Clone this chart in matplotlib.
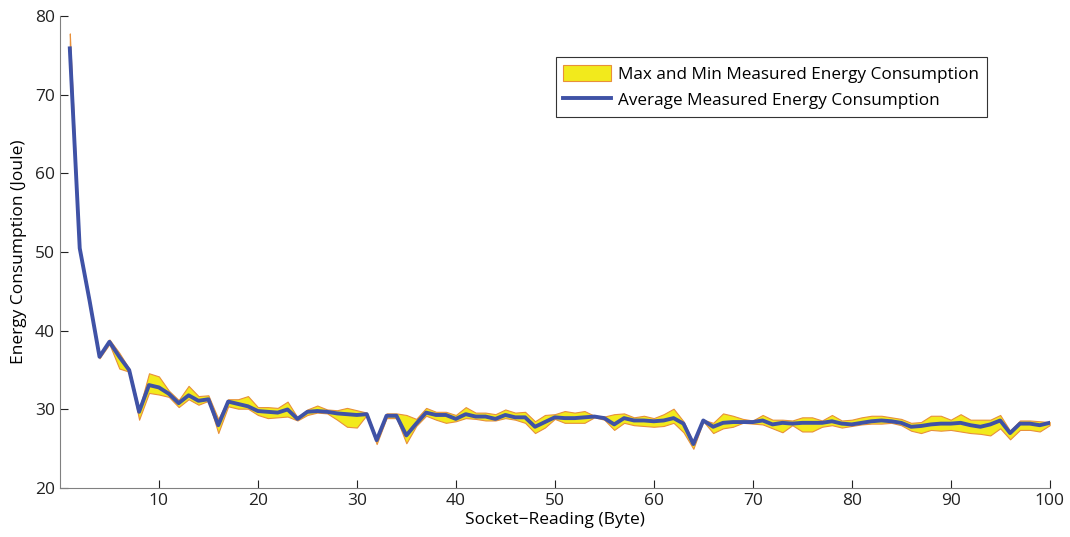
import matplotlib
matplotlib.use('Agg')
import matplotlib.pyplot as plt
import numpy as np

plt.rcParams['font.family'] = ['Open Sans', 'DejaVu Sans']

x = np.arange(1, 101)

avg = [75.9, 50.5, 43.8, 36.7, 38.6, 36.7, 35.0, 29.7, 33.1, 32.8,
       32.0, 30.8, 31.8, 31.1, 31.3, 28.0, 31.0, 30.7, 30.4, 29.8,
       29.7, 29.6, 30.0, 28.8, 29.7, 29.8, 29.7, 29.5, 29.4, 29.3,
       29.4, 26.1, 29.2, 29.2, 26.7, 28.2, 29.6, 29.3, 29.3, 28.8,
       29.4, 29.1, 29.1, 28.8, 29.3, 29.0, 29.0, 27.8, 28.4, 29.0,
       28.9, 28.9, 29.0, 29.1, 28.9, 28.1, 28.9, 28.6, 28.6, 28.5,
       28.6, 28.9, 28.2, 25.6, 28.6, 27.8, 28.3, 28.4, 28.4, 28.4,
       28.6, 28.1, 28.3, 28.2, 28.3, 28.3, 28.3, 28.5, 28.2, 28.1,
       28.3, 28.5, 28.6, 28.5, 28.3, 27.8, 27.9, 28.1, 28.2, 28.2,
       28.3, 28.0, 27.8, 28.1, 28.6, 27.0, 28.2, 28.2, 28.0, 28.3]

e_max = [77.8, 50.6, 44.0, 36.8, 38.9, 37.2, 35.2, 30.0, 34.6, 34.2,
         32.4, 31.2, 33.0, 31.7, 31.8, 28.8, 31.3, 31.3, 31.7, 30.3,
         30.3, 30.2, 31.0, 29.0, 30.0, 30.5, 30.0, 29.9, 30.2, 29.9,
         29.6, 26.3, 29.5, 29.5, 29.3, 28.8, 30.2, 29.7, 29.7, 29.3,
         30.3, 29.6, 29.6, 29.4, 30.0, 29.6, 29.7, 28.5, 29.3, 29.4,
         29.8, 29.6, 29.8, 29.2, 29.1, 29.4, 29.5, 29.0, 29.2, 28.9,
         29.4, 30.1, 28.5, 25.8, 28.7, 28.3, 29.5, 29.2, 28.8, 28.6,
         29.3, 28.7, 28.7, 28.6, 29.0, 29.0, 28.6, 29.3, 28.6, 28.7,
         29.0, 29.2, 29.2, 29.0, 28.8, 28.3, 28.4, 29.2, 29.2, 28.7,
         29.4, 28.7, 28.7, 28.7, 29.3, 27.3, 28.6, 28.6, 28.5, 28.4]

e_min = [75.8, 50.4, 43.6, 36.5, 38.3, 35.2, 34.8, 28.7, 32.1, 31.9,
         31.6, 30.3, 31.3, 30.6, 31.1, 27.0, 30.4, 30.1, 30.1, 29.3,
         28.9, 29.0, 29.1, 28.6, 29.3, 29.6, 29.5, 28.7, 27.8, 27.7,
         29.3, 25.6, 28.9, 28.9, 25.7, 27.9, 29.2, 28.7, 28.3, 28.5,
         28.9, 28.8, 28.6, 28.6, 28.9, 28.7, 28.3, 27.0, 27.7, 28.8,
         28.3, 28.3, 28.3, 29.0, 28.7, 27.4, 28.3, 28.0, 27.9, 27.8,
         27.9, 28.3, 27.1, 25.0, 28.5, 27.0, 27.6, 27.8, 28.3, 28.2,
         28.1, 27.6, 27.1, 28.0, 27.2, 27.2, 27.8, 28.0, 27.7, 27.9,
         28.1, 28.2, 28.2, 28.3, 28.0, 27.3, 27.0, 27.4, 27.3, 27.4,
         27.2, 27.0, 26.9, 26.7, 27.6, 26.2, 27.4, 27.4, 27.2, 28.0]

fig = plt.figure(figsize=(10.7, 5.37), dpi=100)
ax = fig.add_axes([0.056, 0.091, 0.925, 0.879])

ax.fill_between(x, e_min, e_max, facecolor='#f2ea1c', edgecolor='#e8903a',
                linewidth=0.8, label='Max and Min Measured Energy Consumption')
ax.plot(x, avg, color='#3f52a6', linewidth=2.8,
        label='Average Measured Energy Consumption')

ax.set_xlim(0, 100)
ax.set_ylim(20, 80)
ax.set_xticks(range(10, 101, 10))
ax.set_yticks(range(20, 81, 10))
ax.tick_params(direction='in', length=6, labelsize=12.5, colors='#222222')
ax.spines['top'].set_visible(False)
ax.spines['right'].set_visible(False)
ax.spines['left'].set_color('#808080')
ax.spines['bottom'].set_color('#808080')

ax.set_xlabel('Socket\u2212Reading (Byte)', fontsize=12.5, labelpad=2)
ax.set_ylabel('Energy Consumption (Joule)', fontsize=12.5, labelpad=6)

leg = ax.legend(loc='upper left', bbox_to_anchor=(0.501, 0.913), fontsize=12.3,
                fancybox=False, edgecolor='#333333', framealpha=1,
                borderaxespad=0, borderpad=0.45, labelspacing=0.5,
                handlelength=2.8, handleheight=1.1, handletextpad=0.4)
leg.get_frame().set_linewidth(0.8)

fig.savefig('out.png', dpi=100)
